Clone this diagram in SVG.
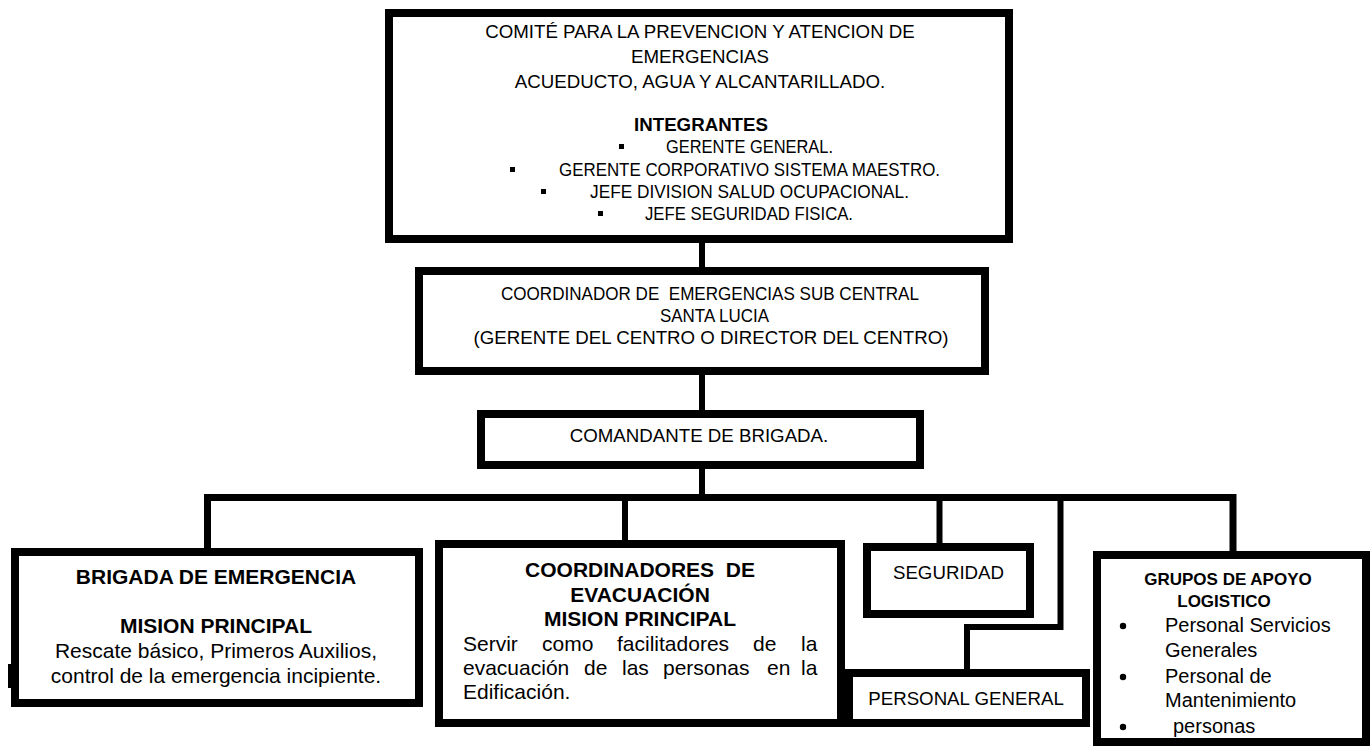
<svg xmlns="http://www.w3.org/2000/svg" width="1371" height="747" viewBox="0 0 1371 747">
<style>
.box{fill:#fff;stroke:#000;stroke-width:8}
.t{font-family:"Liberation Sans",Arial,sans-serif;font-size:18.7px;fill:#000}
.b{font-weight:bold}
.m{font-size:21px}
.g{font-size:20px}
.c{text-anchor:middle}
.ln{fill:none;stroke:#000;stroke-width:6;stroke-linejoin:miter}
</style>
<rect width="1371" height="747" fill="#fff"/>
<g id="connectors">
<path class="ln" d="M702 243V268"/>
<path class="ln" d="M702 374V411"/>
<path class="ln" d="M702 468V498"/>
<path class="ln" style="stroke-width:7" d="M207.5 549V497.5H1233V552"/>
<path class="ln" d="M625 497V541"/>
<path class="ln" d="M939.5 497V544"/>
<path class="ln" d="M1060.5 497V627H967V670"/>
</g>
<g id="comite">
<rect class="box" x="389" y="13" width="620" height="226"/>
<text class="t c" x="700" y="38">COMITÉ PARA LA PREVENCION Y ATENCION DE</text>
<text class="t c" x="700" y="63">EMERGENCIAS</text>
<text class="t c" x="700" y="88">ACUEDUCTO, AGUA Y ALCANTARILLADO.</text>
<text class="t b c" x="701" y="131">INTEGRANTES</text>
<rect x="619" y="144" width="5" height="5"/>
<text class="t" x="666" y="153" textLength="167" lengthAdjust="spacingAndGlyphs">GERENTE GENERAL.</text>
<rect x="510" y="167" width="5" height="5"/>
<text class="t" x="559" y="176" textLength="381" lengthAdjust="spacingAndGlyphs">GERENTE CORPORATIVO SISTEMA MAESTRO.</text>
<rect x="541" y="189" width="5" height="5"/>
<text class="t" x="590" y="198" textLength="319" lengthAdjust="spacingAndGlyphs">JEFE DIVISION SALUD OCUPACIONAL.</text>
<rect x="598" y="211" width="5" height="5"/>
<text class="t" x="645" y="220" textLength="208" lengthAdjust="spacingAndGlyphs">JEFE SEGURIDAD FISICA.</text>
</g>
<g id="coordinador">
<rect class="box" x="419" y="271" width="566" height="100"/>
<text class="t" x="501" y="300" textLength="418" lengthAdjust="spacingAndGlyphs" xml:space="preserve">COORDINADOR DE  EMERGENCIAS SUB CENTRAL</text>
<text class="t" x="660" y="322" textLength="109" lengthAdjust="spacingAndGlyphs">SANTA LUCIA</text>
<text class="t c" x="711" y="344">(GERENTE DEL CENTRO O DIRECTOR DEL CENTRO)</text>
</g>
<g id="comandante">
<rect class="box" x="481" y="414" width="439" height="51"/>
<text class="t c" x="699" y="442">COMANDANTE DE BRIGADA.</text>
</g>
<g id="brigada">
<rect class="box" x="15" y="552" width="404" height="151"/>
<rect x="8" y="664" width="3" height="24"/>
<text class="t m b c" x="216" y="584">BRIGADA DE EMERGENCIA</text>
<text class="t m b c" x="216" y="633">MISION PRINCIPAL</text>
<text class="t m c" x="216" y="658">Rescate básico, Primeros Auxilios,</text>
<text class="t m c" x="216" y="683">control de la emergencia incipiente.</text>
</g>
<g id="coordinadores">
<rect class="box" x="439" y="544" width="402" height="179"/>
<text class="t m b c" x="640" y="577" xml:space="preserve">COORDINADORES  DE</text>
<text class="t m b c" x="640" y="602">EVACUACIÓN</text>
<text class="t m b c" x="640" y="626">MISION PRINCIPAL</text>
<text class="t m" y="651"><tspan x="463">Servir</tspan><tspan x="542">como</tspan><tspan x="617">facilitadores</tspan><tspan x="753">de</tspan><tspan x="801">la</tspan></text>
<text class="t m" y="675"><tspan x="463">evacuación</tspan><tspan x="584">de</tspan><tspan x="622">las</tspan><tspan x="663">personas</tspan><tspan x="767">en</tspan><tspan x="801">la</tspan></text>
<text class="t m" x="463" y="699">Edificación.</text>
</g>
<g id="seguridad">
<rect class="box" x="867" y="547" width="163" height="67"/>
<text class="t c" x="948.5" y="579">SEGURIDAD</text>
</g>
<g id="personal-general">
<rect class="box" x="849" y="673" width="237" height="50"/>
<text class="t c" x="966" y="705">PERSONAL GENERAL</text>
</g>
<g id="grupos">
<rect class="box" x="1097" y="555" width="269" height="187"/>
<text class="t b c" style="font-size:17px" x="1228" y="585">GRUPOS DE APOYO</text>
<text class="t b c" style="font-size:17px" x="1224" y="607">LOGISTICO</text>
<circle cx="1123" cy="626" r="3.2"/>
<text class="t g" x="1165" y="632">Personal Servicios</text>
<text class="t g" x="1165" y="657">Generales</text>
<circle cx="1123" cy="677" r="3.2"/>
<text class="t g" x="1165" y="683">Personal de</text>
<text class="t g" x="1165" y="707">Mantenimiento</text>
<circle cx="1123" cy="727" r="3.2"/>
<text class="t g" x="1173" y="733">personas</text>
</g>
</svg>
